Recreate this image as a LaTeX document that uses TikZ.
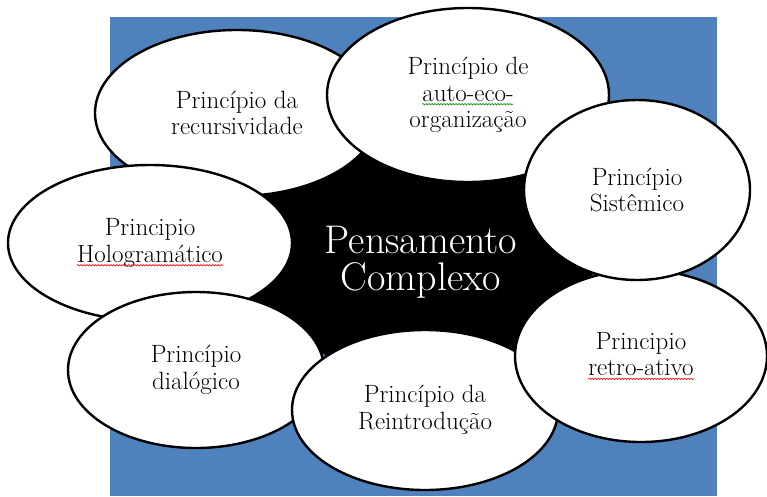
\documentclass[tikz,border=0pt]{standalone}
\usetikzlibrary{shapes.geometric,decorations.pathmorphing}

\definecolor{boxblue}{RGB}{79,129,189}

% wavy spell-check mark under a word
\newcommand\squig[2]{\tikz[baseline=(w.base)]{%
    \node[shape=rectangle,draw=none,fill=none,inner sep=0pt,minimum size=0pt] (w) {#2};
    \draw[#1,line width=0.6pt,decorate,decoration={snake,amplitude=0.7pt,segment length=3pt}]
        ([yshift=-3pt]w.base west) -- ([yshift=-3pt]w.base east);}}

\begin{document}
\begin{tikzpicture}[x=1pt,y=-1pt,
        core/.style={ellipse,fill=black,inner sep=0pt},
        bubble/.style={ellipse,draw=black,line width=2.4pt,fill=white,inner sep=0pt,
            align=center,font=\fontsize{25}{26.5}\selectfont}]

    \useasboundingbox (0,0) rectangle (767,496);
    \fill[boxblue] (110,17) rectangle (717,496);

    \node[core,minimum width=360pt,minimum height=230pt] (core) at (415,255) {};
    \node[text=white,align=center,font=\fontsize{40}{37}\selectfont] (title) at (421,262)
        {Pensamento\\Complexo};

    \node[bubble,minimum width=284pt,minimum height=166pt] (recur) at (237,113)
        {Princípio da\\recursividade};
    \node[bubble,minimum width=284pt,minimum height=156pt] (holo) at (150,243)
        {Principio\\\squig{red}{Hologramático}};
    \node[bubble,minimum width=256pt,minimum height=156pt] (dialog) at (196,370)
        {Princípio\\dialógico};
    \node[bubble,minimum width=266pt,minimum height=160pt] (reintro) at (425,410)
        {Princípio da\\Reintrodução};
    \node[bubble,minimum width=252pt,minimum height=172pt] (retro) at (641,356)
        {Principio\\\squig{red}{retro-ativo}};
    \node[bubble,minimum width=282pt,minimum height=174pt] (autoeco) at (468,95)
        {Princípio de\\\squig{green!60!black}{auto-eco-}\\organização};
    \node[bubble,minimum width=226pt,minimum height=180pt] (sistem) at (637,190)
        {Princípio\\Sistêmico};
\end{tikzpicture}
\end{document}
